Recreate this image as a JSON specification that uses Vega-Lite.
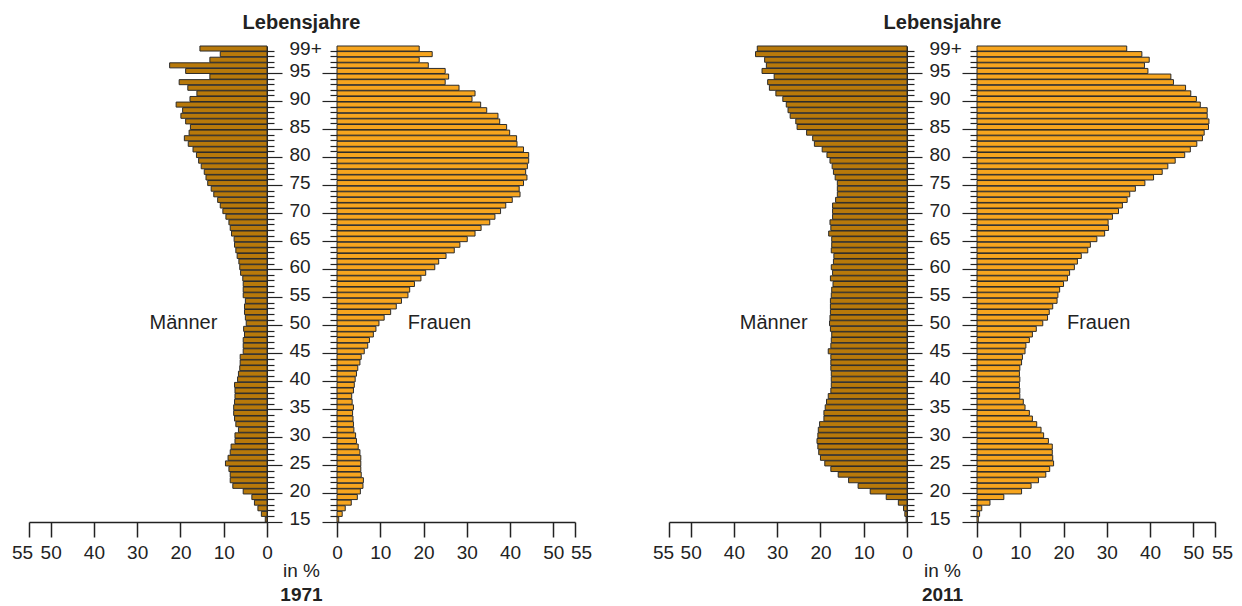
{
  "$schema": "https://vega.github.io/schema/vega-lite/v6.json",
  "padding": {"left": 11, "top": 13, "right": 4, "bottom": 2},
  "data": {
    "values": [
      {"alter": 15, "m1971": 0.4, "f1971": 0.4, "m2011": 0.2, "f2011": 0.3},
      {"alter": 16, "m1971": 1.3, "f1971": 1.2, "m2011": 0.5, "f2011": 0.6},
      {"alter": 17, "m1971": 2.1, "f1971": 1.9, "m2011": 0.8, "f2011": 1.1},
      {"alter": 18, "m1971": 2.9, "f1971": 3.3, "m2011": 2.0, "f2011": 3.0},
      {"alter": 19, "m1971": 3.5, "f1971": 4.7, "m2011": 4.8, "f2011": 6.2},
      {"alter": 20, "m1971": 5.5, "f1971": 5.4, "m2011": 8.5, "f2011": 10.3},
      {"alter": 21, "m1971": 7.9, "f1971": 6.0, "m2011": 11.3, "f2011": 12.5},
      {"alter": 22, "m1971": 8.5, "f1971": 6.1, "m2011": 13.5, "f2011": 14.2},
      {"alter": 23, "m1971": 8.5, "f1971": 5.6, "m2011": 15.9, "f2011": 15.9},
      {"alter": 24, "m1971": 8.8, "f1971": 5.5, "m2011": 17.6, "f2011": 16.8},
      {"alter": 25, "m1971": 9.6, "f1971": 5.5, "m2011": 19.0, "f2011": 17.7},
      {"alter": 26, "m1971": 9.0, "f1971": 5.5, "m2011": 20.0, "f2011": 17.5},
      {"alter": 27, "m1971": 8.5, "f1971": 5.3, "m2011": 20.4, "f2011": 17.4},
      {"alter": 28, "m1971": 8.3, "f1971": 4.9, "m2011": 20.6, "f2011": 17.4},
      {"alter": 29, "m1971": 7.4, "f1971": 4.5, "m2011": 20.8, "f2011": 16.5},
      {"alter": 30, "m1971": 7.4, "f1971": 4.3, "m2011": 20.6, "f2011": 15.4},
      {"alter": 31, "m1971": 6.6, "f1971": 3.9, "m2011": 20.5, "f2011": 14.8},
      {"alter": 32, "m1971": 7.2, "f1971": 3.8, "m2011": 20.2, "f2011": 13.8},
      {"alter": 33, "m1971": 7.5, "f1971": 3.7, "m2011": 19.2, "f2011": 12.8},
      {"alter": 34, "m1971": 7.7, "f1971": 3.6, "m2011": 19.2, "f2011": 12.1},
      {"alter": 35, "m1971": 7.7, "f1971": 3.8, "m2011": 18.9, "f2011": 11.1},
      {"alter": 36, "m1971": 7.5, "f1971": 3.5, "m2011": 18.6, "f2011": 10.7},
      {"alter": 37, "m1971": 7.4, "f1971": 3.4, "m2011": 18.2, "f2011": 9.9},
      {"alter": 38, "m1971": 7.4, "f1971": 3.8, "m2011": 17.6, "f2011": 9.9},
      {"alter": 39, "m1971": 7.5, "f1971": 4.0, "m2011": 17.5, "f2011": 9.8},
      {"alter": 40, "m1971": 6.8, "f1971": 4.2, "m2011": 17.5, "f2011": 9.9},
      {"alter": 41, "m1971": 6.6, "f1971": 4.5, "m2011": 17.5, "f2011": 9.8},
      {"alter": 42, "m1971": 6.3, "f1971": 4.8, "m2011": 17.6, "f2011": 9.9},
      {"alter": 43, "m1971": 6.2, "f1971": 5.3, "m2011": 17.6, "f2011": 10.3},
      {"alter": 44, "m1971": 6.2, "f1971": 5.6, "m2011": 17.6, "f2011": 10.5},
      {"alter": 45, "m1971": 5.5, "f1971": 6.3, "m2011": 18.2, "f2011": 11.1},
      {"alter": 46, "m1971": 5.5, "f1971": 7.1, "m2011": 17.6, "f2011": 11.3},
      {"alter": 47, "m1971": 5.5, "f1971": 7.5, "m2011": 17.5, "f2011": 12.1},
      {"alter": 48, "m1971": 5.2, "f1971": 8.4, "m2011": 17.4, "f2011": 12.8},
      {"alter": 49, "m1971": 5.4, "f1971": 9.0, "m2011": 17.7, "f2011": 13.7},
      {"alter": 50, "m1971": 4.8, "f1971": 9.7, "m2011": 17.9, "f2011": 15.2},
      {"alter": 51, "m1971": 5.0, "f1971": 10.9, "m2011": 17.8, "f2011": 16.3},
      {"alter": 52, "m1971": 5.2, "f1971": 12.4, "m2011": 17.7, "f2011": 16.7},
      {"alter": 53, "m1971": 5.2, "f1971": 13.7, "m2011": 17.7, "f2011": 17.5},
      {"alter": 54, "m1971": 5.0, "f1971": 14.9, "m2011": 17.7, "f2011": 18.5},
      {"alter": 55, "m1971": 5.5, "f1971": 16.4, "m2011": 17.5, "f2011": 18.7},
      {"alter": 56, "m1971": 5.5, "f1971": 16.8, "m2011": 17.4, "f2011": 19.1},
      {"alter": 57, "m1971": 5.5, "f1971": 17.9, "m2011": 17.1, "f2011": 20.0},
      {"alter": 58, "m1971": 5.6, "f1971": 19.4, "m2011": 17.7, "f2011": 20.9},
      {"alter": 59, "m1971": 6.1, "f1971": 20.5, "m2011": 17.2, "f2011": 21.4},
      {"alter": 60, "m1971": 6.3, "f1971": 22.6, "m2011": 17.5, "f2011": 22.5},
      {"alter": 61, "m1971": 6.5, "f1971": 23.5, "m2011": 17.0, "f2011": 23.2},
      {"alter": 62, "m1971": 6.9, "f1971": 25.2, "m2011": 16.9, "f2011": 24.1},
      {"alter": 63, "m1971": 7.2, "f1971": 27.1, "m2011": 17.5, "f2011": 25.6},
      {"alter": 64, "m1971": 7.5, "f1971": 28.4, "m2011": 17.4, "f2011": 26.2},
      {"alter": 65, "m1971": 7.6, "f1971": 30.1, "m2011": 17.4, "f2011": 27.7},
      {"alter": 66, "m1971": 8.2, "f1971": 31.9, "m2011": 18.1, "f2011": 29.5},
      {"alter": 67, "m1971": 8.5, "f1971": 33.3, "m2011": 17.6, "f2011": 30.4},
      {"alter": 68, "m1971": 8.8, "f1971": 35.3, "m2011": 17.8, "f2011": 30.3},
      {"alter": 69, "m1971": 9.5, "f1971": 36.5, "m2011": 17.2, "f2011": 31.3},
      {"alter": 70, "m1971": 10.2, "f1971": 37.8, "m2011": 17.2, "f2011": 32.7},
      {"alter": 71, "m1971": 10.8, "f1971": 39.0, "m2011": 17.2, "f2011": 33.6},
      {"alter": 72, "m1971": 11.4, "f1971": 40.5, "m2011": 16.5, "f2011": 34.7},
      {"alter": 73, "m1971": 12.3, "f1971": 42.3, "m2011": 16.1, "f2011": 35.3},
      {"alter": 74, "m1971": 12.9, "f1971": 42.1, "m2011": 16.1, "f2011": 36.6},
      {"alter": 75, "m1971": 13.7, "f1971": 43.1, "m2011": 16.1, "f2011": 38.8},
      {"alter": 76, "m1971": 14.1, "f1971": 43.9, "m2011": 16.6, "f2011": 40.8},
      {"alter": 77, "m1971": 14.5, "f1971": 43.6, "m2011": 17.0, "f2011": 42.8},
      {"alter": 78, "m1971": 15.2, "f1971": 44.0, "m2011": 17.3, "f2011": 44.1},
      {"alter": 79, "m1971": 15.8, "f1971": 44.3, "m2011": 17.8, "f2011": 45.8},
      {"alter": 80, "m1971": 16.3, "f1971": 44.3, "m2011": 18.5, "f2011": 48.0},
      {"alter": 81, "m1971": 17.1, "f1971": 43.1, "m2011": 19.6, "f2011": 49.3},
      {"alter": 82, "m1971": 18.2, "f1971": 41.6, "m2011": 21.4, "f2011": 50.8},
      {"alter": 83, "m1971": 19.1, "f1971": 41.5, "m2011": 21.8, "f2011": 52.1},
      {"alter": 84, "m1971": 18.0, "f1971": 39.9, "m2011": 23.2, "f2011": 52.5},
      {"alter": 85, "m1971": 17.7, "f1971": 39.2, "m2011": 25.4, "f2011": 53.5},
      {"alter": 86, "m1971": 18.8, "f1971": 37.6, "m2011": 25.7, "f2011": 53.6},
      {"alter": 87, "m1971": 19.9, "f1971": 37.2, "m2011": 27.0, "f2011": 53.2},
      {"alter": 88, "m1971": 19.5, "f1971": 34.6, "m2011": 27.5, "f2011": 53.2},
      {"alter": 89, "m1971": 21.0, "f1971": 33.2, "m2011": 27.9, "f2011": 51.6},
      {"alter": 90, "m1971": 17.8, "f1971": 31.2, "m2011": 28.7, "f2011": 50.7},
      {"alter": 91, "m1971": 16.2, "f1971": 31.9, "m2011": 30.3, "f2011": 49.4},
      {"alter": 92, "m1971": 18.3, "f1971": 28.2, "m2011": 31.8, "f2011": 48.2},
      {"alter": 93, "m1971": 20.3, "f1971": 25.0, "m2011": 32.2, "f2011": 45.4},
      {"alter": 94, "m1971": 13.2, "f1971": 25.8, "m2011": 30.7, "f2011": 44.8},
      {"alter": 95, "m1971": 18.8, "f1971": 25.0, "m2011": 33.5, "f2011": 39.5},
      {"alter": 96, "m1971": 22.5, "f1971": 21.1, "m2011": 32.5, "f2011": 38.7},
      {"alter": 97, "m1971": 13.2, "f1971": 19.0, "m2011": 32.9, "f2011": 39.8},
      {"alter": 98, "m1971": 10.8, "f1971": 22.0, "m2011": 35.0, "f2011": 38.1},
      {"alter": 99, "m1971": 15.5, "f1971": 19.0, "m2011": 34.6, "f2011": 34.6}
    ]
  },
  "hconcat": [
    {
      "title": {"text": "in %", "subtitle": "1971", "orient": "bottom", "anchor": "middle", "fontSize": 19, "fontWeight": "normal", "subtitleFontSize": 19, "subtitleFontWeight": "bold", "subtitleColor": "#222", "subtitlePadding": 5, "offset": 0},
      "vconcat": [
        {
          "title": {"text": "Lebensjahre", "anchor": "middle", "offset": 6},
          "spacing": 70,
          "bounds": "flush",
          "hconcat": [
            {
              "width": 238,
              "height": 476,
              "layer": [
                {
                  "mark": {"type": "bar", "fill": "#b8790a", "stroke": "#2b2b2b", "strokeWidth": 1},
                  "encoding": {
                    "y": {"field": "alter", "type": "ordinal", "sort": "descending", "scale": {"paddingInner": 0.1, "paddingOuter": 0},
                      "axis": {"orient": "right", "title": null, "bandPosition": 1, "domainColor": "#222", "tickColor": "#222", "tickWidth": 1.2,
                        "tickSize": {"condition": {"test": "datum.value % 5 === 0", "value": 15}, "value": 7},
                        "labelPadding": {"condition": {"test": "datum.value % 5 === 0", "value": 7}, "value": 15},
                        "labelExpr": "datum.value == 99 ? '99+' : (datum.value % 5 == 0 ? datum.label : '')",
                        "labelAlign": "left", "labelBaseline": "middle", "labelFontSize": 19, "labelColor": "#222", "labelOverlap": false, "labelBound": false}},
                    "x": {"field": "m1971", "type": "quantitative", "scale": {"domain": [0, 55], "reverse": true, "nice": false},
                      "axis": {"title": null, "values": [0, 10, 20, 30, 40, 50, 55], "tickCount": 20, "tickSize": 15, "tickColor": "#222", "tickWidth": 1.5, "domainColor": "#222", "domainWidth": 1.5, "labelFontSize": 19, "labelColor": "#222", "labelPadding": 6, "labelFlush": false, "labelOverlap": false, "labelBound": false,
                        "labelOffset": {"condition": {"test": "datum.value == 55", "value": -7}, "value": 0}}}
                  }
                },
                {
                  "transform": [{"filter": "datum.alter == 50"}],
                  "mark": {"type": "text", "fontSize": 20, "fill": "#222"},
                  "encoding": {
                    "y": {"field": "alter", "type": "ordinal", "sort": "descending"},
                    "x": {"datum": 19.3, "type": "quantitative"},
                    "text": {"value": "Männer"}
                  }
                }
              ]
            },
            {
              "width": 238,
              "height": 476,
              "layer": [
                {
                  "mark": {"type": "bar", "fill": "#f7a51e", "stroke": "#2b2b2b", "strokeWidth": 1},
                  "encoding": {
                    "y": {"field": "alter", "type": "ordinal", "sort": "descending", "scale": {"paddingInner": 0.1, "paddingOuter": 0},
                      "axis": {"orient": "left", "title": null, "bandPosition": 1, "domainColor": "#222", "tickColor": "#222", "tickWidth": 1.2,
                        "tickSize": {"condition": {"test": "datum.value % 5 === 0", "value": 15}, "value": 7},
                        "labels": false}},
                    "x": {"field": "f1971", "type": "quantitative", "scale": {"domain": [0, 55], "nice": false},
                      "axis": {"title": null, "values": [0, 10, 20, 30, 40, 50, 55], "tickCount": 20, "tickSize": 15, "tickColor": "#222", "tickWidth": 1.5, "domainColor": "#222", "domainWidth": 1.5, "labelFontSize": 19, "labelColor": "#222", "labelPadding": 6, "labelFlush": false, "labelOverlap": false, "labelBound": false,
                        "labelOffset": {"condition": {"test": "datum.value == 55", "value": 6}, "value": 0}}}
                  }
                },
                {
                  "transform": [{"filter": "datum.alter == 50"}],
                  "mark": {"type": "text", "fontSize": 20, "fill": "#222"},
                  "encoding": {
                    "y": {"field": "alter", "type": "ordinal", "sort": "descending"},
                    "x": {"datum": 23.7, "type": "quantitative"},
                    "text": {"value": "Frauen"}
                  }
                }
              ]
            }
          ]
        }
      ]
    },
    {
      "title": {"text": "in %", "subtitle": "2011", "orient": "bottom", "anchor": "middle", "fontSize": 19, "fontWeight": "normal", "subtitleFontSize": 19, "subtitleFontWeight": "bold", "subtitleColor": "#222", "subtitlePadding": 5, "offset": 0},
      "vconcat": [
        {
          "title": {"text": "Lebensjahre", "anchor": "middle", "offset": 6},
          "spacing": 70,
          "bounds": "flush",
          "hconcat": [
            {
              "width": 238,
              "height": 476,
              "layer": [
                {
                  "mark": {"type": "bar", "fill": "#b8790a", "stroke": "#2b2b2b", "strokeWidth": 1},
                  "encoding": {
                    "y": {"field": "alter", "type": "ordinal", "sort": "descending", "scale": {"paddingInner": 0.1, "paddingOuter": 0},
                      "axis": {"orient": "right", "title": null, "bandPosition": 1, "domainColor": "#222", "tickColor": "#222", "tickWidth": 1.2,
                        "tickSize": {"condition": {"test": "datum.value % 5 === 0", "value": 15}, "value": 7},
                        "labelPadding": {"condition": {"test": "datum.value % 5 === 0", "value": 7}, "value": 15},
                        "labelExpr": "datum.value == 99 ? '99+' : (datum.value % 5 == 0 ? datum.label : '')",
                        "labelAlign": "left", "labelBaseline": "middle", "labelFontSize": 19, "labelColor": "#222", "labelOverlap": false, "labelBound": false}},
                    "x": {"field": "m2011", "type": "quantitative", "scale": {"domain": [0, 55], "reverse": true, "nice": false},
                      "axis": {"title": null, "values": [0, 10, 20, 30, 40, 50, 55], "tickCount": 20, "tickSize": 15, "tickColor": "#222", "tickWidth": 1.5, "domainColor": "#222", "domainWidth": 1.5, "labelFontSize": 19, "labelColor": "#222", "labelPadding": 6, "labelFlush": false, "labelOverlap": false, "labelBound": false,
                        "labelOffset": {"condition": {"test": "datum.value == 55", "value": -6}, "value": 0}}}
                  }
                },
                {
                  "transform": [{"filter": "datum.alter == 50"}],
                  "mark": {"type": "text", "fontSize": 20, "fill": "#222"},
                  "encoding": {
                    "y": {"field": "alter", "type": "ordinal", "sort": "descending"},
                    "x": {"datum": 30.8, "type": "quantitative"},
                    "text": {"value": "Männer"}
                  }
                }
              ]
            },
            {
              "width": 238,
              "height": 476,
              "layer": [
                {
                  "mark": {"type": "bar", "fill": "#f7a51e", "stroke": "#2b2b2b", "strokeWidth": 1},
                  "encoding": {
                    "y": {"field": "alter", "type": "ordinal", "sort": "descending", "scale": {"paddingInner": 0.1, "paddingOuter": 0},
                      "axis": {"orient": "left", "title": null, "bandPosition": 1, "domainColor": "#222", "tickColor": "#222", "tickWidth": 1.2,
                        "tickSize": {"condition": {"test": "datum.value % 5 === 0", "value": 15}, "value": 7},
                        "labels": false}},
                    "x": {"field": "f2011", "type": "quantitative", "scale": {"domain": [0, 55], "nice": false},
                      "axis": {"title": null, "values": [0, 10, 20, 30, 40, 50, 55], "tickCount": 20, "tickSize": 15, "tickColor": "#222", "tickWidth": 1.5, "domainColor": "#222", "domainWidth": 1.5, "labelFontSize": 19, "labelColor": "#222", "labelPadding": 6, "labelFlush": false, "labelOverlap": false, "labelBound": false,
                        "labelOffset": {"condition": {"test": "datum.value == 55", "value": 7}, "value": 0}}}
                  }
                },
                {
                  "transform": [{"filter": "datum.alter == 50"}],
                  "mark": {"type": "text", "fontSize": 20, "fill": "#222"},
                  "encoding": {
                    "y": {"field": "alter", "type": "ordinal", "sort": "descending"},
                    "x": {"datum": 28.1, "type": "quantitative"},
                    "text": {"value": "Frauen"}
                  }
                }
              ]
            }
          ]
        }
      ]
    }
  ],
  "spacing": 60,
  "config": {
    "font": "Liberation Sans",
    "view": {"stroke": null},
    "axis": {"grid": false},
    "title": {"fontSize": 20, "fontWeight": "bold", "color": "#222"}
  }
}
